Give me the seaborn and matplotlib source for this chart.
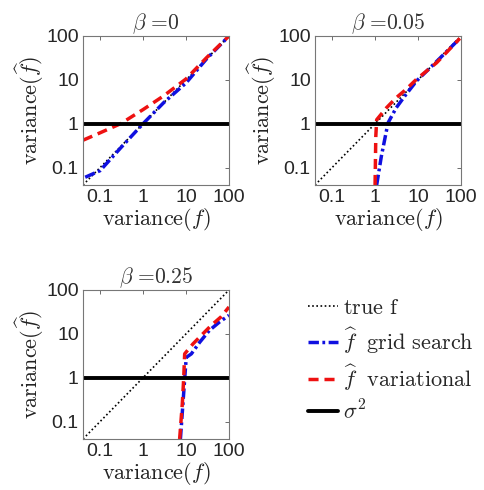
import numpy as np
import pandas as pd
import matplotlib
matplotlib.use('Agg')
import matplotlib.pyplot as plt
import seaborn as sns

sns.set_style('white')
plt.rcParams['mathtext.fontset'] = 'cm'
plt.rcParams['font.family'] = ['Liberation Sans', 'DejaVu Sans']

# ── data ───────────────────────────────────────────────────────────────────
BETAS = ['0', '0.05', '0.25']
TRUE_X = [0.04, 100]

# beta = 0
grid_x_0 = [0.045, 0.1, 0.3, 1, 3, 10, 30, 100]
grid_y_0 = [0.06, 0.085, 0.28, 1.0, 3.0, 8.5, 30, 100]
var_x_0 = [0.04, 0.1, 0.3, 1, 3, 10, 30, 100]
var_y_0 = [0.42, 0.62, 1.0, 2.1, 4.3, 10.5, 32, 100]

# beta = 0.05
grid_x_1 = [1.09, 1.4, 2.0, 3.1, 5.2, 9.3, 30, 94]
grid_y_1 = [0.04, 0.18, 1.04, 2.3, 4.6, 9.5, 29, 88]
var_x_1 = [1.0, 1.04, 1.09, 1.84, 3.1, 5.2, 9.3, 27, 94]
var_y_1 = [0.04, 0.51, 1.23, 2.3, 3.9, 6.0, 10.4, 24.5, 88]

# beta = 0.25
grid_x_2 = [7.4, 9.3, 10.1, 13.3, 20.7, 35, 60, 100]
grid_y_2 = [0.04, 0.93, 2.9, 3.5, 6.4, 12, 18.6, 26.5]
var_x_2 = [7.1, 8.2, 8.8, 9.3, 14.5, 24.6, 38.6, 65, 100]
var_y_2 = [0.04, 0.26, 0.92, 3.5, 5.9, 10, 15.6, 24.3, 41]

SIGMA2 = 1.0

GRID = [(grid_x_0, grid_y_0), (grid_x_1, grid_y_1), (grid_x_2, grid_y_2)]
VAR = [(var_x_0, var_y_0), (var_x_1, var_y_1), (var_x_2, var_y_2)]

TICKS = [0.1, 1, 10, 100]
TICK_LABELS = ['0.1', '1', '10', '100']

W, H = 485, 490
fig = plt.figure(figsize=(W / 100, H / 100), dpi=100)
boxes = [(83, 36), (315, 36), (83, 290)]
axes = [fig.add_axes([l / W, 1 - (t + 149) / H, 146 / W, 149 / H]) for l, t in boxes]

for ax, beta, (gx, gy), (vx, vy) in zip(axes, BETAS, GRID, VAR):
    sns.lineplot(x=TRUE_X, y=TRUE_X, ax=ax, color='black', lw=1.2,
                 linestyle=(0, (1, 1.5)), label='true f', sort=False)
    sns.lineplot(x=gx, y=gy, ax=ax, color='#1010e0', lw=2.5,
                 linestyle=(0, (3.0, 1.0, 0.8, 1.0)), label='grid', sort=False)
    sns.lineplot(x=vx, y=vy, ax=ax, color='#ee1111', lw=2.5,
                 linestyle=(0, (2.9, 1.7)), label='var', sort=False)
    ax.axhline(SIGMA2, color='black', lw=2.8, label='sigma')
    ax.set_xscale('log')
    ax.set_yscale('log')
    ax.set_xlim(0.04, 100)
    ax.set_ylim(0.04, 100)
    ax.set_xticks(TICKS)
    ax.set_xticklabels(TICK_LABELS)
    ax.set_yticks(TICKS)
    ax.set_yticklabels(TICK_LABELS)
    ax.minorticks_off()
    ax.tick_params(direction='in', length=3, width=0.6, color='#555555',
                   top=True, right=True, labelsize=14, pad=3)
    for s in ax.spines.values():
        s.set_color('#777777')
        s.set_linewidth(0.8)
    ax.set_title(r'$\beta\ $=$%s$' % beta, fontsize=15.5, pad=5,
                 family='cmr10', color='#333333')
    ax.set_xlabel(r'$\mathrm{variance}(f)$', fontsize=16, labelpad=0,
                  color='#222222')
    ax.set_ylabel(r'$\mathrm{variance}(\widehat{f})$', fontsize=16, labelpad=0,
                  color='#222222')
    ax.get_legend().remove()

handles = axes[2].get_lines()
labels = [r'$\mathrm{true\ f}$', r'$\widehat{f}\ \ \mathrm{grid\ search}$',
          r'$\widehat{f}\ \ \mathrm{variational}$', r'$\sigma^2$']
fig.legend(handles[:4], labels, loc='upper left',
           bbox_to_anchor=(289 / W, 1 - 279 / H), frameon=False,
           fontsize=16, handlelength=1.36, handletextpad=0.2,
           labelspacing=0.3, borderpad=0.35)

plt.savefig('out.png', dpi=100)
